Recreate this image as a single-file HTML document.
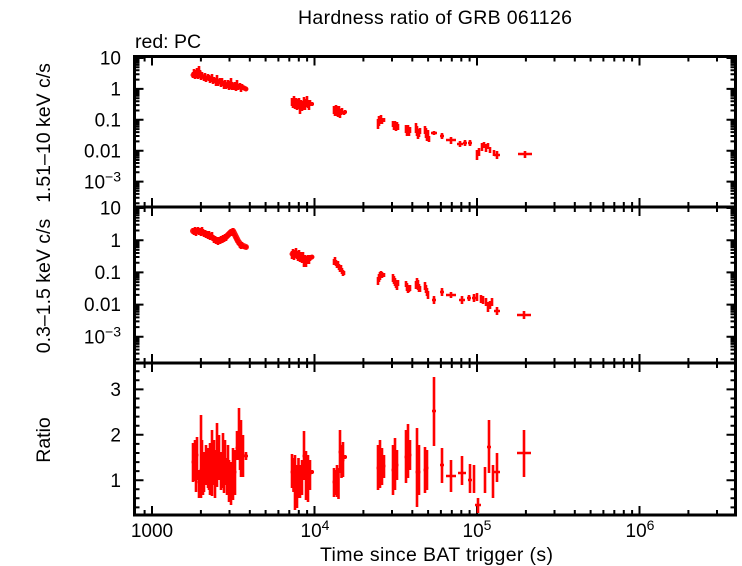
<!DOCTYPE html>
<html><head><meta charset="utf-8"><style>html,body{margin:0;padding:0;background:#fff}svg{display:block}</style></head>
<body>
<svg width="742" height="566" viewBox="0 0 742 566" xmlns="http://www.w3.org/2000/svg" xmlns:xlink="http://www.w3.org/1999/xlink" font-family="'Liberation Sans', Arial, sans-serif" font-size="19.5" fill="#000">
<rect width="742" height="566" fill="#fff"/>
<defs>
<path id="xmaj" d="M152 0v9M314.5 0v9M477 0v9M639.5 0v9"/>
<path id="xmin" d="M144.6 0v5M200.9 0v5M229.5 0v5M249.8 0v5M265.6 0v5M278.4 0v5M289.3 0v5M298.8 0v5M307.1 0v5M363.4 0v5M392 0v5M412.3 0v5M428.1 0v5M440.9 0v5M451.8 0v5M461.3 0v5M469.6 0v5M525.9 0v5M554.5 0v5M574.8 0v5M590.6 0v5M603.4 0v5M614.3 0v5M623.8 0v5M632.1 0v5M688.4 0v5M717 0v5"/>
<path id="xmaj2" d="M152 -9v18M314.5 -9v18M477 -9v18M639.5 -9v18"/>
<path id="xmin2" d="M144.6 -5v10M200.9 -5v10M229.5 -5v10M249.8 -5v10M265.6 -5v10M278.4 -5v10M289.3 -5v10M298.8 -5v10M307.1 -5v10M363.4 -5v10M392 -5v10M412.3 -5v10M428.1 -5v10M440.9 -5v10M451.8 -5v10M461.3 -5v10M469.6 -5v10M525.9 -5v10M554.5 -5v10M574.8 -5v10M590.6 -5v10M603.4 -5v10M614.3 -5v10M623.8 -5v10M632.1 -5v10M688.4 -5v10M717 -5v10"/>
<path id="yt" d="M134.5 58h9M134.5 88.9h9M134.5 119.8h9M134.5 150.7h9M134.5 181.6h9
M134.5 59.4h5M134.5 61h5M134.5 62.8h5M134.5 64.9h5M134.5 67.3h5M134.5 70.3h5M134.5 74.2h5M134.5 79.6h5
M134.5 90.3h5M134.5 91.9h5M134.5 93.7h5M134.5 95.8h5M134.5 98.2h5M134.5 101.2h5M134.5 105.1h5M134.5 110.5h5
M134.5 121.2h5M134.5 122.8h5M134.5 124.6h5M134.5 126.7h5M134.5 129.1h5M134.5 132.1h5M134.5 136h5M134.5 141.4h5
M134.5 152.1h5M134.5 153.7h5M134.5 155.5h5M134.5 157.6h5M134.5 160h5M134.5 163h5M134.5 166.9h5M134.5 172.3h5
M134.5 183h5M134.5 184.6h5M134.5 186.4h5M134.5 188.5h5M134.5 190.9h5M134.5 193.9h5M134.5 197.8h5M134.5 203.2h5
M134.5 208h9M134.5 240.2h9M134.5 272.4h9M134.5 304.6h9M134.5 336.8h9
M134.5 209.5h5M134.5 211.1h5M134.5 213h5M134.5 215.1h5M134.5 217.7h5M134.5 220.8h5M134.5 224.8h5M134.5 230.5h5
M134.5 241.7h5M134.5 243.3h5M134.5 245.2h5M134.5 247.3h5M134.5 249.9h5M134.5 253h5M134.5 257h5M134.5 262.7h5
M134.5 273.9h5M134.5 275.5h5M134.5 277.4h5M134.5 279.5h5M134.5 282.1h5M134.5 285.2h5M134.5 289.2h5M134.5 294.9h5
M134.5 306.1h5M134.5 307.7h5M134.5 309.6h5M134.5 311.7h5M134.5 314.3h5M134.5 317.4h5M134.5 321.4h5M134.5 327.1h5
M134.5 338.3h5M134.5 339.9h5M134.5 341.8h5M134.5 343.9h5M134.5 346.5h5M134.5 349.6h5M134.5 353.6h5M134.5 359.3h5
M134.5 389.4h9M134.5 434.8h9M134.5 480.2h9
M134.5 371.3h5M134.5 380.3h5M134.5 398.5h5M134.5 407.5h5M134.5 416.6h5M134.5 425.7h5M134.5 443.9h5M134.5 453h5M134.5 462.1h5M134.5 471.1h5M134.5 489.3h5M134.5 498.3h5M134.5 507.4h5"/>
</defs>

<g stroke="#000" stroke-width="2" fill="none">
<use xlink:href="#xmaj" transform="translate(0,56.5)"/>
<use xlink:href="#xmin" transform="translate(0,56.5)"/>
<use xlink:href="#xmaj2" transform="translate(0,207)"/>
<use xlink:href="#xmin2" transform="translate(0,207)"/>
<use xlink:href="#xmaj2" transform="translate(0,363)"/>
<use xlink:href="#xmin2" transform="translate(0,363)"/>
<use xlink:href="#xmaj" transform="translate(0,515) scale(1,-1)"/>
<use xlink:href="#xmin" transform="translate(0,515) scale(1,-1)"/>
<use xlink:href="#yt"/>
<use xlink:href="#yt" transform="translate(870,0) scale(-1,1)"/>
</g>
<g stroke="#000" stroke-width="3" fill="none">
<rect x="134.5" y="56.5" width="601" height="458.5"/>
<path d="M134.5 207H735.5M134.5 363H735.5"/>
</g>

<g stroke="#ff0000" fill="none" stroke-linejoin="round" stroke-linecap="round" opacity="0.9">
<polyline stroke-width="5" points="193,75 195,74 197,73 199,72 201,76 204,77 206,78 209,78 212,79 214,80 217,81 220,82 222,83 225,84 228,85 231,84 234,86 237,86 240,87 242,87 246,89"/>
<polyline stroke-width="6" points="193,231 197,231 201,232 204,233 207,234 210,236 213,238 216,240 219,241 222,240 225,238 228,235 231,232 233,231 235,235 238,241 241,245 246,247"/>
<polyline stroke-width="5" points="292,254 296,254 300,256 304,260 308,259 312,257"/>
</g>

<g stroke="#ff0000" stroke-width="2.6" fill="none">
<!-- top panel -->
<path d="M193 72V78M192 75H194M194 69V77M193 73H195M195 73V79M194 76H196M196 70V78M195 74H197M197 68V76M196 72H198M198 73V79M197 76H199M199 66V76M198 71H200M200 70V78M199 74H201M201 74V80M200 77H202M202 72V78M201 75H203M204 75V81M203 78H205M205 73V79M204 76H206M206 76V82M205 79H207M208 74V80M207 77H209M209 75V81M208 78H210M210 77V83M209 80H211M212 74V82M211 78H213M213 78V84M212 81H214M214 77V83M213 80H215M216 78V86M215 82H217M217 75V83M216 79H218M218 80V86M217 83H219M220 78V84M219 81H221M221 81V87M220 84H222M222 78V86M221 82H223M224 81V89M223 85H225M225 80V86M224 83H226M226 83V89M225 86H227M228 80V88M227 84H229M229 84V90M228 87H230M230 81V89M229 85H231M231 78V86M230 82H232M232 82V90M231 86H233M234 84V90M233 87H235M235 82V88M234 85H236M236 85V91M235 88H237M237 80V88M236 84H238M238 84V90M237 87H239M240 83V89M239 86H241M241 86V92M240 89H242M242 84V90M241 87H243M244 86V90M243 88H245M246 87V91M244 89H248"/>
<path d="M292 98V106M291 102H293M293 100V108M292 104H294M294 96V106M293 101H295M295 101V109M294 105H296M296 98V108M295 103H297M297 102V110M296 106H298M298 99V109M297 104H299M299 98V106M298 102H300M300 102V114M299 108H301M301 100V108M300 104H302M302 101V111M301 106H303M303 102V110M302 106H304M304 97V105M303 101H305M305 100V110M304 105H306M306 99V107M305 103H307M307 96V104M306 100H308M308 100V108M307 104H309M309 102V110M308 106H310M310 100V106M309 103H311M312 102V106M311 104H314"/>
<path d="M334 106V114M333 110H335M335 108V116M334 112H336M336 105V113M335 109H337M337 106V116M336 111H338M338 109V117M337 113H339M339 106V114M338 110H340M340 110V118M339 114H341M341 109V115M340 112H342M342 108V114M341 111H343M344 111V115M343 113H345M345 110V114M344 112H347"/>
<path d="M378 119V129M377 124H379M379 116V126M378 121H380M380 116V124M379 120H381M381 115V123M380 119H382M382 118V124M381 121H383M384 118V122M383 120H385
M393 121V127M392 124H394M394 122V130M393 126H395M395 121V129M394 125H396M396 123V131M395 127H397M397 122V128M396 125H398M398 124V130M397 127H399
M406 125V133M405 129H407M407 126V136M406 131H408M408 125V133M407 129H409M409 128V136M408 132H410M410 127V133M409 130H411
M416 123V133M415 128H417M417 126V136M416 131H418M418 129V139M417 134H419M419 129V137M418 133H420M420 128V134M419 131H421
M425 126V134M424 130H426M426 128V138M425 133H427M427 131V141M426 136H428M428 130V138M427 134H429M429 136V142M428 139H430
M434 131V135M431 133H437M442 133V139M440 136H444M451 137V144M446 140H456
M460 141V147M457 144H463M465 140V146M463 143H467M470 140V146M468 143H472
M477 150V160M476 155H478M479 148V156M478 152H480
M482 143V151M481 147H483M484 142V148M483 145H485M486 144V152M485 148H487M488 143V149M487 146H489M490 147V153M489 150H491
M494 150V156M493 153H495M497 151V159M494 155H500M525 151V158M518 154H532"/>
<!-- middle panel -->
<path d="M193 228V234M192 231H194M194 229V235M193 232H195M195 227V233M194 230H196M196 230V236M195 233H197M197 228V234M196 231H198M198 227V233M197 230H199M199 229V235M198 232H200M200 228V234M199 231H201M201 230V236M200 233H202M202 227V233M201 230H203M203 229V235M202 232H204M204 231V237M203 234H205M205 230V236M204 233H206M206 232V238M205 235H207M207 231V237M206 234H208M208 233V239M207 236H209M209 231V237M208 234H210M210 234V240M209 237H211M211 233V239M210 236H212M212 232V238M211 235H213M213 235V241M212 238H214M214 237V243M213 240H215M215 236V242M214 239H216M216 238V244M215 241H217M217 237V243M216 240H218M218 239V245M217 242H219M219 237V243M218 240H220M220 238V244M219 241H221M221 236V242M220 239H222M222 237V243M221 240H223M223 235V241M222 238H224M224 236V242M223 239H225M225 234V240M224 237H226M226 235V241M225 238H227M227 233V239M226 236H228M228 232V238M227 235H229M229 231V237M228 234H230M230 230V236M229 233H231M231 229V235M230 232H232M232 230V236M231 233H233M233 228V234M232 231H234M234 230V236M233 233H235M235 233V239M234 236H236M236 235V241M235 238H237M237 237V243M236 240H238M238 239V245M237 242H239M239 240V246M238 243H240M240 242V248M239 245H241M241 243V249M240 246H242M242 242V248M241 245H243M243 244V248M242 246H244M244 245V249M243 247H245M246 245V249M244 247H248"/>
<path d="M292 251V259M291 255H293M293 249V257M292 253H294M294 252V260M293 256H295M295 250V258M294 254H296M296 248V256M295 252H297M297 251V259M296 255H298M298 253V261M297 257H299M299 250V258M298 254H300M300 254V262M299 258H301M301 252V260M300 256H302M302 255V263M301 259H303M303 252V262M302 257H304M304 257V267M303 262H305M305 255V263M304 259H306M306 259V267M305 263H307M307 256V264M306 260H308M308 255V261M307 258H309M309 258V264M308 261H310M310 255V261M309 258H311M312 255V259M311 257H314"/>
<path d="M334 259V265M333 262H335M335 257V263M334 260H336M336 260V266M335 263H337M337 262V268M336 265H338M338 261V267M337 264H339M339 264V270M338 267H340M340 266V272M339 269H341M341 265V271M340 268H342M342 268V274M341 271H343M343 270V276M342 273H344M344 271V275M343 273H345"/>
<path d="M378 277V285M377 281H379M379 274V282M378 278H380M380 272V280M379 276H381M381 271V277M380 274H382M382 272V278M381 275H383M384 273V277M383 275H385
M393 274V282M392 278H394M394 276V284M393 280H395M395 278V286M394 282H396M396 280V288M395 284H397M397 282V290M396 286H398M398 280V286M397 283H399
M406 281V287M405 284H407M407 283V291M406 287H408M408 285V293M407 289H409M409 286V292M408 289H410M410 285V291M409 288H411
M416 281V289M415 285H417M417 278V286M416 282H418M418 280V290M417 285H419M419 284V292M418 288H420M420 286V292M419 289H421
M425 282V290M424 286H426M426 285V293M425 289H427M427 288V296M426 292H428M428 291V299M427 295H429
M434 296V304M432 300H436M442 288V296M440 292H444M451 292V298M446 295H456M462 296V304M459 300H465
M469 295V301M467 298H471M474 294V302M472 298H476M477 293V301M476 297H478M481 295V303M480 299H482M483 296V304M482 300H484M486 298V306M485 302H487
M488 302V312M487 307H489M490 301V309M489 305H491M492 298V306M491 302H493M497 307V315M494 311H500M524 311V319M517 315H531"/>
<!-- ratio panel -->
<path d="M193 443V482M191.5 462H194.5M195 440V481M193.5 458H196.5M197 437V480M195.5 455H198.5M199 470V498M197.5 482H200.5M201 415V498M199.5 470H202.5M202 440V490M204 452V492M202.5 471H205.5M206 445V485M204.5 466H207.5M208 448V488M206.5 470H209.5M210 443V495M208.5 468H211.5M212 430V496M210.5 462H213.5M213 445V485M215 450V498M213.5 478H216.5M217 423V487M215.5 455H218.5M219 435V480M217.5 460H220.5M221 452V490M219.5 470H222.5M223 433V488M221.5 462H224.5M225 440V485M223.5 465H226.5M227 458V495M225.5 478H228.5M229 460V502M227.5 480H230.5M231 462V505M229.5 484H232.5M233 448V500M231.5 470H234.5M235 450V495M233.5 472H236.5M237 431V460M235.5 448H238.5M239 408V460M237.5 432H240.5M241 420V477M239.5 445H242.5M243 435V477M241.5 455H244.5M246 452V460M244 456H248
M196 455V492M203 460V495M209 455V490M214 440V478M218 448V480M224 455V493M228 445V482M232 470V500M240 440V470"/>
<path d="M292 454V488M290.5 472H293.5M293.5 458V492M295 455V510M293.5 485H296.5M297 465V508M295.5 488H298.5M298.5 458V498M300 465V498M298.5 482H301.5M302 460V495M300.5 478H303.5M304 431V480M302.5 456H305.5M306 451V500M304.5 476H307.5M308 455V502M306.5 478H309.5M310 460V490M308.5 474H311.5M312 470V474M310 472H314"/>
<path d="M334 468V497M332.5 482H335.5M335.5 470V495M337 465V497M335.5 480H338.5M338.5 468V499M340 430V473M338.5 452H341.5M341.5 445V478M343 442V477M341.5 460H344.5M345 455V459M343 457H347"/>
<path d="M378 445V490M376.5 468H379.5M380 440V488M378.5 465H381.5M382 448V485M380.5 467H383.5M384 455V478M382.5 466H385.5
M393 445V495M391.5 470H394.5M395 438V490M393.5 465H396.5M397 450V480M395.5 465H398.5
M406 430V483M404.5 457H407.5M408 424V478M406.5 452H409.5M410 440V470M408.5 455H411.5
M417 428V507M415.5 472H418.5M419 445V495M417.5 472H420.5
M425 447V493M423.5 470H426.5M427 450V490M425.5 468H428.5
M434 377V446M432 411H436M442 448V483M440 465H444M451 460V492M446 476H456M462 456V485M458 473H466
M470 464V493M468 480H472M474 465V493M473 480H475M478 498V513M475 505H481
M485 467V493M484 480H486M489 420V473M487 447H491M493 465V498M492 480H494M497 453V482M494 472H500
M524 430V477M517 453H531"/>
</g>

<!-- text -->
<text x="298" y="24" textLength="274" lengthAdjust="spacing">Hardness ratio of GRB 061126</text>
<text x="135" y="48">red: PC</text>

<g font-size="19" text-anchor="end">
<text x="121" y="64.5">10</text>
<text x="121" y="95.5">1</text>
<text x="121" y="126.5">0.1</text>
<text x="121" y="157.5">0.01</text>
<text x="121" y="188.5">10<tspan dy="-7" font-size="14">−3</tspan></text>
<text x="121" y="214.5">10</text>
<text x="121" y="247">1</text>
<text x="121" y="279">0.1</text>
<text x="121" y="311">0.01</text>
<text x="121" y="343.5">10<tspan dy="-7" font-size="14">−3</tspan></text>
<text x="121" y="396">3</text>
<text x="121" y="441.5">2</text>
<text x="121" y="487">1</text>
</g>

<g font-size="19" text-anchor="middle">
<text x="152" y="537">1000</text>
<text x="315" y="537">10<tspan dy="-7" font-size="14">4</tspan></text>
<text x="477" y="537">10<tspan dy="-7" font-size="14">5</tspan></text>
<text x="640" y="537">10<tspan dy="-7" font-size="14">6</tspan></text>
</g>

<text x="320" y="561" textLength="233" lengthAdjust="spacing">Time since BAT trigger (s)</text>

<g text-anchor="middle">
<text transform="translate(50,133) rotate(-90)">1.51–10 keV c/s</text>
<text transform="translate(50,286) rotate(-90)">0.3–1.5 keV c/s</text>
<text transform="translate(50,440) rotate(-90)">Ratio</text>
</g>
</svg>
</body></html>
